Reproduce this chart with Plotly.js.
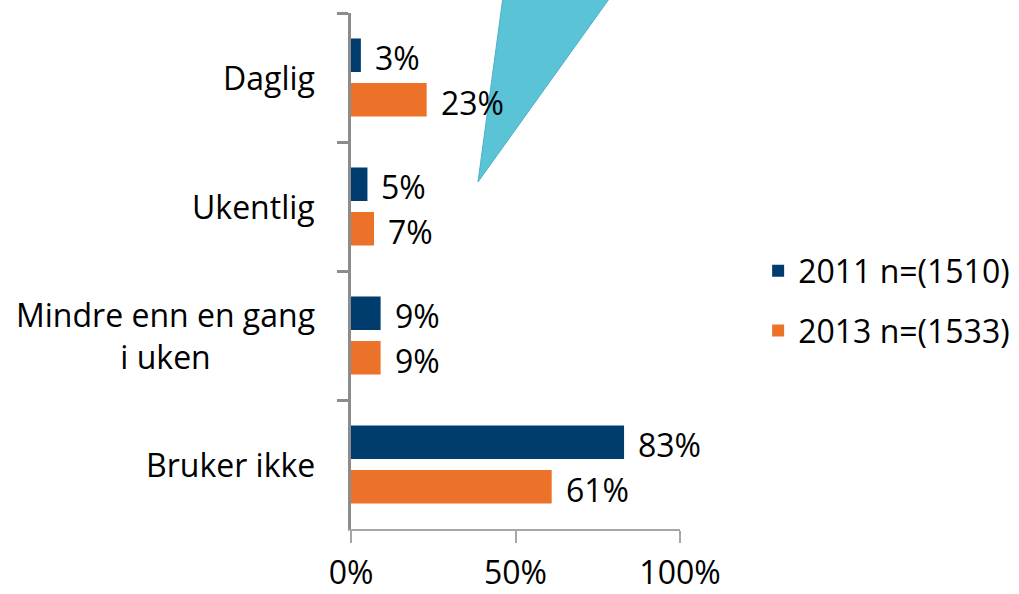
<!DOCTYPE html>
<html>
<head>
<meta charset="utf-8">
<script src="https://cdn.plot.ly/plotly-3.0.1.min.js"></script>
<style>html,body{margin:0;padding:0;background:#fff;}#chart{width:1019px;height:594px;}</style>
</head>
<body>
<div id="chart"></div>
<script>
const categories = ["Daglig", "Ukentlig", "Mindre enn en gang<br>i uken", "Bruker ikke"];
const seriesNames = ["2011 n=(1510)", "2013 n=(1533)"];
const values2011 = [3, 5, 9, 83];
const values2013 = [23, 7, 9, 61];
const xTickVals = [0, 50, 100];
const xTickText = ["0%", "50%", "100%"];

const colors = ["#003d6e", "#ed7229"];
const FONT = "Open Sans, sans-serif";
const FS = 32;

const traces = [values2011, values2013].map((vals, i) => ({
  type: "bar",
  orientation: "h",
  name: seriesNames[i],
  legendgroup: "g" + i,
  x: vals,
  y: categories,
  marker: { color: colors[i] },
  hoverinfo: "skip"
}));

const annotations = [];
categories.forEach(c => {
  annotations.push({
    xref: "paper", yref: "y", x: 0, y: c,
    xanchor: "right", yanchor: "middle", xshift: -34,
    text: c, showarrow: false, align: "center",
    font: { family: FONT, size: FS, color: "#000" }
  });
});
[values2011, values2013].forEach((vals, i) => {
  vals.forEach((v, j) => {
    annotations.push({
      xref: "x", yref: "y", x: v, y: categories[j],
      xanchor: "left", yanchor: "middle",
      xshift: 12, yshift: i === 0 ? 20 : -25,
      text: v + "%", showarrow: false,
      font: { family: FONT, size: FS, color: "#000" }
    });
  });
});

const layout = {
  width: 1019, height: 594,
  margin: { l: 351, r: 339, t: 13, b: 65 },
  paper_bgcolor: "#fff", plot_bgcolor: "rgba(0,0,0,0)",
  font: { family: FONT, size: FS, color: "#000" },
  barmode: "group",
  bargap: 0.31,
  bargroupgap: 0.247,
  showlegend: true,
  legend: {
    xref: "container", yref: "container",
    x: 0.744, xanchor: "left", y: 0.590, yanchor: "top",
    font: { family: FONT, size: FS, color: "#000" },
    tracegroupgap: 15, bgcolor: "rgba(0,0,0,0)"
  },
  xaxis: {
    range: [0, 100], fixedrange: true,
    tickvals: xTickVals, ticktext: xTickText,
    ticks: "outside", ticklen: 12, tickwidth: 2, tickcolor: "#a6a6a6",
    showline: true, linecolor: "#a6a6a6", linewidth: 2,
    showgrid: false, zeroline: false,
    tickfont: { family: FONT, size: FS, color: "#000" },
    ticklabelstandoff: 3
  },
  yaxis: {
    type: "category", range: [3.5, -0.5], fixedrange: true,
    tickson: "boundaries",
    ticks: "outside", ticklen: 11, tickwidth: 3, tickcolor: "#8c8c8c",
    showline: true, linecolor: "#8c8c8c", linewidth: 3,
    showticklabels: false, showgrid: false, zeroline: false
  },
  shapes: [{
    type: "path", xref: "paper", yref: "paper", layer: "above",
    path: "M 0.386,0.6725 L 0.466,1.05 L 0.81,1.05 Z",
    fillcolor: "#5bc3d6", line: { color: "#4fb0c4", width: 1 }
  }],
  annotations: annotations
};

Plotly.newPlot("chart", traces, layout, { displayModeBar: false, staticPlot: true });
</script>
</body>
</html>
